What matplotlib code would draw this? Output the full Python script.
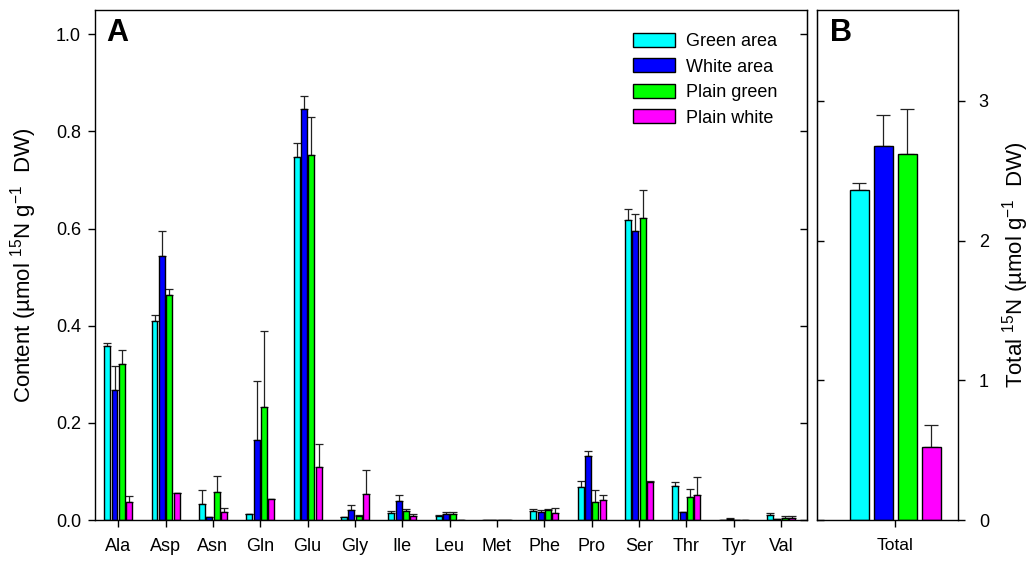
import matplotlib
matplotlib.use("Agg")
import matplotlib.pyplot as plt
import numpy as np

plt.rcParams["font.family"] = ["Liberation Sans", "DejaVu Sans"]
plt.rcParams["mathtext.fontset"] = "custom"
plt.rcParams["mathtext.rm"] = "Liberation Sans"
plt.rcParams["mathtext.default"] = "regular"

# --- data ---
amino_acids = ["Ala", "Asp", "Asn", "Gln", "Glu", "Gly", "Ile", "Leu",
               "Met", "Phe", "Pro", "Ser", "Thr", "Tyr", "Val"]
series_names = ["Green area", "White area", "Plain green", "Plain white"]
series_colors = ["#00FFFF", "#0000FF", "#00FF00", "#FF00FF"]

green_area = [0.358, 0.410, 0.033, 0.013, 0.748, 0.006, 0.014, 0.009,
              0.0, 0.019, 0.067, 0.618, 0.071, 0.001, 0.011]
green_area_err = [0.007, 0.012, 0.029, 0.0, 0.029, 0.001, 0.004, 0.001,
                  0.0, 0.003, 0.013, 0.023, 0.007, 0.0, 0.004]
white_area = [0.268, 0.543, 0.007, 0.165, 0.847, 0.020, 0.039, 0.013,
              0.0, 0.016, 0.132, 0.594, 0.016, 0.002, 0.002]
white_area_err = [0.049, 0.052, 0.0, 0.121, 0.025, 0.011, 0.013, 0.004,
                  0.0, 0.005, 0.010, 0.035, 0.0, 0.002, 0.0]
plain_green = [0.322, 0.463, 0.058, 0.232, 0.752, 0.009, 0.019, 0.013,
               0.0, 0.021, 0.037, 0.622, 0.048, 0.001, 0.005]
plain_green_err = [0.028, 0.013, 0.032, 0.158, 0.078, 0.002, 0.004, 0.004,
                   0.0, 0.002, 0.024, 0.058, 0.015, 0.0, 0.003]
plain_white = [0.037, 0.055, 0.016, 0.043, 0.109, 0.053, 0.008, 0.001,
               0.0, 0.014, 0.041, 0.078, 0.052, 0.0, 0.005]
plain_white_err = [0.013, 0.0, 0.009, 0.0, 0.047, 0.049, 0.004, 0.0,
                   0.0, 0.011, 0.011, 0.003, 0.036, 0.0, 0.003]

total_values = [2.36, 2.68, 2.62, 0.52]
total_err = [0.05, 0.22, 0.32, 0.16]

means = [green_area, white_area, plain_green, plain_white]
errs = [green_area_err, white_area_err, plain_green_err, plain_white_err]

fig = plt.figure(figsize=(10.36, 5.65), dpi=100)
ax = fig.add_axes([0.0917, 0.0796, 0.6873, 0.9027])
ax2 = fig.add_axes([0.7886, 0.0796, 0.1361, 0.9027])

# --- panel A ---
x = np.arange(len(amino_acids))
pitch = 0.155
width = 0.125
for i, (vals, err, name, col) in enumerate(zip(means, errs, series_names, series_colors)):
    pos = x + (i - 1.5) * pitch
    ax.bar(pos, vals, width, color=col, edgecolor="black", linewidth=1.0,
           label=name, zorder=2)
    ax.errorbar(pos, vals, yerr=[np.zeros(len(vals)), err], fmt="none",
                ecolor="#222222", elinewidth=0.9, capsize=3.2, capthick=0.9, zorder=1)

ax.set_xlim(-0.49, 14.55)
ax.set_ylim(0, 1.05)
ax.set_xticks(x)
ax.set_xticklabels(amino_acids, fontsize=13)
ax.set_yticks(np.arange(0, 1.01, 0.2))
ax.set_yticklabels([f"{v:.1f}" for v in np.arange(0, 1.01, 0.2)], fontsize=13)
ax.tick_params(axis="both", direction="out", length=5, width=1, pad=5)
ax.tick_params(axis="x", pad=8)
ax.set_ylabel(r"Content (µmol $^{15}$N g$^{-1}$  DW)", fontsize=16, labelpad=12)
sec = ax.secondary_yaxis("right")
sec.set_yticks(np.arange(0, 1.01, 0.2))
sec.tick_params(direction="in", length=5, width=1, labelright=False)
ax.text(0.016, 0.985, "A", transform=ax.transAxes, fontsize=22,
        fontweight="bold", ha="left", va="top")
ax.legend(loc="upper left", bbox_to_anchor=(0.756, 0.955), frameon=False,
          fontsize=13, handlelength=2.3, handleheight=0.8, handletextpad=0.6,
          labelspacing=0.46, borderpad=0, borderaxespad=0)

# --- panel B ---
bx = (np.arange(4) - 1.5) * 0.5
ax2.bar(bx, total_values, 0.4, color=series_colors, edgecolor="black",
        linewidth=1.0, zorder=2)
ax2.errorbar(bx, total_values, yerr=[np.zeros(4), total_err], fmt="none",
             ecolor="#222222", elinewidth=0.9, capsize=5, capthick=0.9, zorder=1)
ax2.set_xlim(-1.63, 1.31)
ax2.set_ylim(0, 3.65)
ax2.set_xticks([0])
ax2.set_xticklabels(["Total"], fontsize=12.5)
ax2.yaxis.tick_right()
ax2.yaxis.set_label_position("right")
ax2.set_yticks([0, 1, 2, 3])
ax2.set_yticklabels(["0", "1", "2", "3"], fontsize=13)
ax2.tick_params(axis="both", direction="out", length=5, width=1, pad=5)
ax2.tick_params(axis="y", pad=10)
ax2.tick_params(axis="x", pad=8)
ax2.set_ylabel(r"Total $^{15}$N (µmol g$^{-1}$  DW)", fontsize=16, labelpad=8)
sec2 = ax2.secondary_yaxis("left")
sec2.set_yticks([0, 1, 2, 3])
sec2.tick_params(direction="in", length=5, width=1, labelleft=False)
ax2.text(0.09, 0.985, "B", transform=ax2.transAxes, fontsize=22,
         fontweight="bold", ha="left", va="top")

for a in (ax, ax2):
    for s in a.spines.values():
        s.set_linewidth(1.0)

fig.savefig("out.png", dpi=100)
